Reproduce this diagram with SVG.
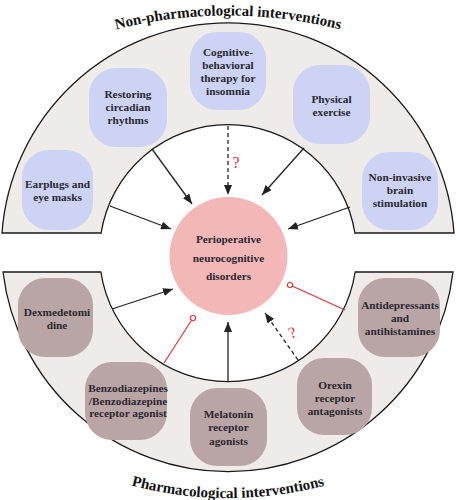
<svg xmlns="http://www.w3.org/2000/svg" width="457" height="500" viewBox="0 0 457 500">
<style>
.band{fill:#efebe8;stroke:#1a1a1a;stroke-width:1.3}
.blue{fill:#ccd3f5}
.mauve{fill:#b9a5a6}
.lbl{font-family:"Liberation Serif","Times New Roman",serif;font-weight:bold;font-size:11.3px;fill:#2b2830;text-anchor:middle}
.title{font-family:"Liberation Serif","Times New Roman",serif;font-weight:bold;font-size:15px;fill:#111}
.arr{stroke:#222;stroke-width:1.3;fill:none;marker-end:url(#ah)}
.dash{stroke-dasharray:4 3}
.inh{stroke:#d8343c;stroke-width:1.2;fill:none;marker-end:url(#dot)}
.q{font-family:"Liberation Serif","Times New Roman",serif;font-size:16px;fill:#d9313a;text-anchor:middle}
</style>
<defs>
<marker id="ah" markerUnits="userSpaceOnUse" markerWidth="10" markerHeight="8" refX="10" refY="4" orient="auto">
<path d="M0,0 L10,4 L0,8 z" fill="#222"/>
</marker>
<marker id="dot" markerUnits="userSpaceOnUse" markerWidth="8" markerHeight="8" refX="4" refY="4" orient="auto">
<circle cx="4" cy="4" r="2.6" fill="#fff" stroke="#d8343c" stroke-width="1.1"/>
</marker>
<path id="topArc" d="M-20,89 A455,455 0 0 1 476,89"/>
<path id="botArc" d="M40,448.5 A382,382 0 0 0 416,448.5"/>
</defs>
<rect width="457" height="500" fill="#fff"/>
<g id="bands">
<path class="band" d="M2,233 A226.6,226.6 0 0 1 454,233 L354.9,233 A128.5,128.5 0 0 0 101.1,233 Z"/>
<path class="band" d="M3,272 L100.9,272 A128.5,128.5 0 0 0 355.1,272 L453,272 A226.6,226.6 0 0 1 3,272 Z"/>
</g>
<g id="titles">
<text class="title"><textPath href="#topArc" startOffset="50%" text-anchor="middle">Non-pharmacological interventions</textPath></text>
<text class="title" font-size="14.8"><textPath href="#botArc" startOffset="50%" text-anchor="middle">Pharmacological interventions</textPath></text>
</g>
<g id="connectors">
<line class="arr" x1="110" y1="206" x2="171" y2="229"/>
<line class="arr" x1="152" y1="149" x2="192" y2="204"/>
<line class="arr dash" x1="228" y1="126" x2="228" y2="195"/>
<line class="arr" x1="304" y1="148" x2="262" y2="195"/>
<line class="arr" x1="350" y1="207" x2="288" y2="229"/>
<line class="arr" x1="112" y1="309" x2="173" y2="289"/>
<line class="inh" x1="164" y1="363" x2="193" y2="318"/>
<line class="arr" x1="228" y1="381" x2="228" y2="322"/>
<line class="arr dash" x1="298" y1="360" x2="265" y2="313"/>
<line class="inh" x1="345" y1="310" x2="290" y2="285"/>
<text class="q" x="236" y="168">?</text>
<text class="q" x="292" y="338" transform="rotate(-20 292 332)">?</text>
</g>
<g id="center">
<circle cx="228.5" cy="256" r="59" fill="#f4b7b8"/>
<text class="lbl" font-size="12.2" x="228.5" y="243">Perioperative</text>
<text class="lbl" font-size="12.2" x="228.5" y="262">neurocognitive</text>
<text class="lbl" font-size="12.2" x="228.5" y="280">disorders</text>
</g>
<g id="n_earplugs">
<rect class="blue" x="22" y="150" width="71" height="80" rx="27"/>
<text class="lbl" x="57.5" y="188">Earplugs and</text>
<text class="lbl" x="57.5" y="201">eye masks</text>
</g>
<g id="n_circadian">
<rect class="blue" x="89" y="68" width="78" height="79" rx="27"/>
<text class="lbl" x="128" y="98">Restoring</text>
<text class="lbl" x="128" y="111">circadian</text>
<text class="lbl" x="128" y="124">rhythms</text>
</g>
<g id="n_cbt">
<rect class="blue" x="190" y="32" width="76" height="78" rx="27"/>
<text class="lbl" x="228" y="56">Cognitive-</text>
<text class="lbl" x="228" y="69">behavioral</text>
<text class="lbl" x="228" y="82">therapy for</text>
<text class="lbl" x="228" y="95">insomnia</text>
</g>
<g id="n_exercise">
<rect class="blue" x="293" y="65" width="77" height="79" rx="27"/>
<text class="lbl" x="331.5" y="103">Physical</text>
<text class="lbl" x="331.5" y="116">exercise</text>
</g>
<g id="n_nibs">
<rect class="blue" x="362" y="152" width="76" height="78" rx="27"/>
<text class="lbl" x="400" y="181">Non-invasive</text>
<text class="lbl" x="400" y="194">brain</text>
<text class="lbl" x="400" y="207">stimulation</text>
</g>
<g id="n_dex">
<rect class="mauve" x="18" y="278" width="75" height="79" rx="27"/>
<text class="lbl" x="57" y="316">Dexmedetomi</text>
<text class="lbl" x="57" y="329">dine</text>
</g>
<g id="n_benzo">
<rect class="mauve" x="85" y="362" width="82" height="78" rx="27"/>
<text class="lbl" font-size="10.6" x="128" y="392">Benzodiazepines</text>
<text class="lbl" font-size="10.6" x="128" y="405">/Benzodiazepine</text>
<text class="lbl" font-size="10.6" x="128" y="417">receptor agonist</text>
</g>
<g id="n_melatonin">
<rect class="mauve" x="190" y="388" width="77" height="78" rx="27"/>
<text class="lbl" x="228.5" y="418">Melatonin</text>
<text class="lbl" x="228.5" y="431">receptor</text>
<text class="lbl" x="228.5" y="445">agonists</text>
</g>
<g id="n_orexin">
<rect class="mauve" x="297" y="358" width="75" height="77" rx="27"/>
<text class="lbl" x="335" y="389">Orexin</text>
<text class="lbl" x="335" y="402">receptor</text>
<text class="lbl" x="335" y="415">antagonists</text>
</g>
<g id="n_antidep">
<rect class="mauve" x="358" y="278" width="82" height="79" rx="27"/>
<text class="lbl" font-size="10.9" x="400" y="309">Antidepressants</text>
<text class="lbl" font-size="10.9" x="400" y="322">and</text>
<text class="lbl" font-size="10.9" x="400" y="335">antihistamines</text>
</g>
</svg>
